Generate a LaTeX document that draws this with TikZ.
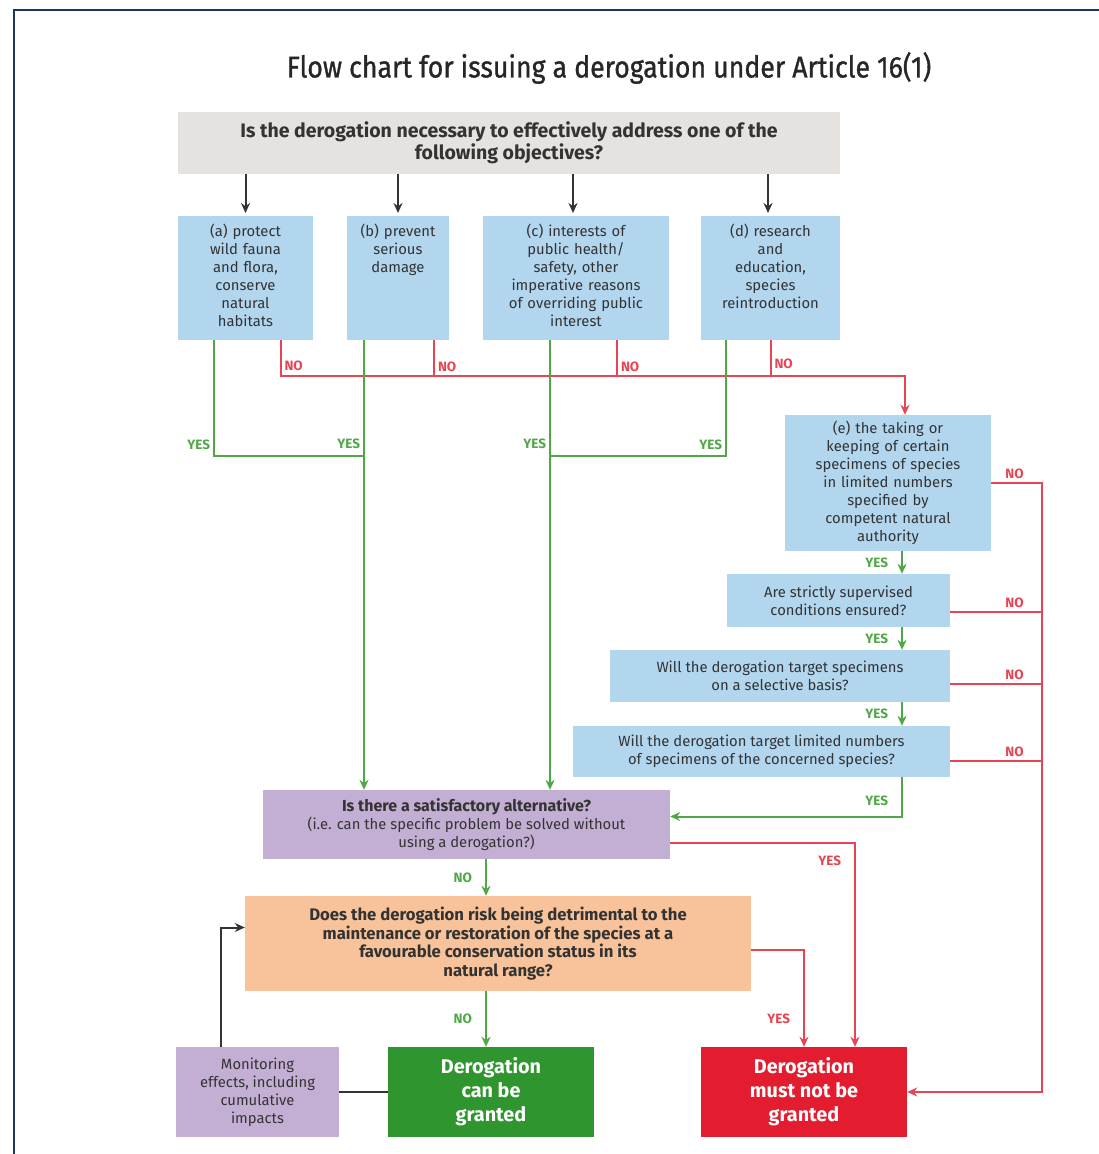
\documentclass[tikz,border=0pt]{standalone}
\usepackage{fontspec}
\setmainfont{Fira Sans}
\newfontfamily\titlefont[FakeStretch=0.89,FakeBold=1]{Fira Sans}
\usetikzlibrary{calc,arrows.meta}

\definecolor{framecol}{HTML}{1F3564}
\definecolor{greybox}{HTML}{E5E2DF}
\definecolor{bluebox}{HTML}{B3D6EF}
\definecolor{lilacbox}{HTML}{C4AFD4}
\definecolor{orangebox}{HTML}{F8C39A}
\definecolor{grantcol}{HTML}{2E952F}
\definecolor{refusecol}{HTML}{E31D2F}
\definecolor{yescol}{HTML}{4FA845}
\definecolor{nocol}{HTML}{E64653}
\definecolor{boxtext}{HTML}{333333}

\tikzset{
  box/.style={fill=bluebox, inner sep=4pt, align=center, text=boxtext,
    font=\fontsize{14.8}{18}\selectfont},
  topbox/.style={box, anchor=north, text height=16pt, text depth=100pt},
  endbox/.style={box, text=white, minimum height=90pt, minimum width=206pt,
    font=\bfseries\fontsize{19.8}{24}\selectfont},
  flow/.style={draw=black!80, line width=2pt},
  yesline/.style={draw=yescol, line width=2pt},
  noline/.style={draw=nocol, line width=2pt},
  lab/.style={font=\bfseries\fontsize{13.5}{14}\selectfont, inner sep=3pt},
  glab/.style={lab, text=yescol},
  rlab/.style={lab, text=nocol},
}

\begin{document}
\begin{tikzpicture}[x=1pt,y=-1pt,>={Stealth[length=10pt,width=9pt]}]
  \useasboundingbox (0,0) rectangle (1099,1154);
  \draw[framecol, line width=2pt] (14,1154) -- (14,10) -- (1099,10);

  \node[font=\titlefont\fontsize{30}{36}\selectfont, text=black!85] (title) at (609,68)
    {Flow chart for issuing a derogation under Article 16(1)};

  \node[box, fill=greybox, minimum width=662pt, minimum height=62pt,
    font=\bfseries\fontsize{19.5}{22}\selectfont] (obj) at (509,143)
    {Is the derogation necessary to effectively address one of the\\following objectives?};

  \node[topbox, text width=127pt] (pa) at (245.5,216) {(a) protect\\wild fauna\\and flora,\\conserve\\natural\\habitats};
  \node[topbox, text width=94pt] (pb) at (398,216) {(b) prevent\\serious\\damage};
  \node[topbox, text width=178pt] (pc) at (576,216) {(c) interests of\\public health/\\safety, other\\imperative reasons\\of overriding public\\interest};
  \node[topbox, text width=131pt] (pd) at (770.5,216) {(d) research\\and\\education,\\species\\reintroduction};

  \node[box, text width=198pt, minimum height=136pt] (pe) at (888,483)
    {(e) the taking or\\keeping of certain\\specimens of species\\in limited numbers\\specified by\\competent natural\\authority};
  \node[box, minimum width=223pt, minimum height=53pt] (qf) at (838.5,600.5)
    {Are strictly supervised\\conditions ensured?};
  \node[box, minimum width=340pt, minimum height=52pt] (qg) at (780,676)
    {Will the derogation target specimens\\on a selective basis?};
  \node[box, minimum width=377pt, minimum height=51pt] (qh) at (761.5,751.5)
    {Will the derogation target limited numbers\\of specimens of the concerned species?};

  \node[box, fill=lilacbox, minimum width=407pt, minimum height=69pt] (alt) at (466.5,824.5)
    {\textbf{\fontsize{16}{18}\selectfont Is there a satisfactory alternative?}\\(i.e. can the specific problem be solved without\\using a derogation?)};
  \node[box, fill=orangebox, minimum width=506pt, minimum height=95pt,
    font=\bfseries\fontsize{16.7}{18.5}\selectfont] (risk) at (498,943.5)
    {Does the derogation risk being detrimental to the\\maintenance or restoration of the species at a\\favourable conservation status in its\\natural range?};

  \node[box, fill=lilacbox, minimum width=163pt, minimum height=90pt] (mon) at (257.5,1092)
    {Monitoring\\effects, including\\cumulative\\impacts};
  \node[endbox, fill=grantcol] (grant) at (491,1092) {Derogation\\can be\\granted};
  \node[endbox, fill=refusecol] (refuse) at (804,1092) {Derogation\\must not be\\granted};

  \coordinate (nobus) at (905,376);
  \coordinate (ya) at (364,456);
  \coordinate (yc) at (550,456);
  \coordinate (yx) at (902,0);
  \coordinate (nx) at (1042,0);
  \coordinate (gx) at (486,0);

  \draw[flow,->] (pa.north |- obj.south) -- ([yshift=3pt]pa.north);
  \draw[flow,->] (pb.north |- obj.south) -- ([yshift=3pt]pb.north);
  \draw[flow,->] ([xshift=-3pt]pc.north |- obj.south) -- ([xshift=-3pt,yshift=3pt]pc.north);
  \draw[flow,->] ([xshift=-2.5pt]pd.north |- obj.south) -- ([xshift=-2.5pt,yshift=3pt]pd.north);

  \draw[noline,->] ([xshift=35pt]pa.south) |- node[rlab,right,pos=0.36]{NO} (nobus) -- (nobus |- pe.north);
  \draw[noline] ([xshift=36pt]pb.south) -- node[rlab,right,pos=0.72]{NO} ++(0,36);
  \draw[noline] ([xshift=41pt]pc.south) -- node[rlab,right,pos=0.72]{NO} ++(0,36);
  \draw[noline] (pd.south) -- node[rlab,right,pos=0.65]{NO} ++(0,36);

  \draw[yesline] ([xshift=-31.5pt]pa.south) |- node[glab,left,pos=0.45]{YES} (ya);
  \draw[yesline,->] (ya |- pb.south) -- node[glab,left,pos=0.23]{YES} (ya |- alt.north);
  \draw[yesline,->] (yc |- pc.south) -- node[glab,left,pos=0.23]{YES} (yc |- alt.north);
  \draw[yesline] ([xshift=-44.5pt]pd.south) |- node[glab,left,pos=0.45]{YES} (yc);

  \draw[yesline,->] (pe.south -| yx) -- node[glab,left=10pt]{YES} (qf.north -| yx);
  \draw[yesline,->] (qf.south -| yx) -- node[glab,left=10pt]{YES} (qg.north -| yx);
  \draw[yesline,->] (qg.south -| yx) -- node[glab,left=10pt]{YES} (qh.north -| yx);
  \draw[yesline,->] (qh.south -| yx) |- node[glab,left=10pt,pos=0.3]{YES} ([yshift=8pt]alt.east);

  \draw[noline,->] (pe.east) -| node[rlab,above,pos=0.23]{NO} (nx |- refuse.east) -- (refuse.east);
  \draw[noline] ([yshift=-11pt]qf.east) -- node[rlab,above,pos=0.7]{NO} ([yshift=-11pt]qf.east -| nx);
  \draw[noline] ([yshift=-8pt]qg.east) -- node[rlab,above,pos=0.7]{NO} ([yshift=-8pt]qg.east -| nx);
  \draw[noline] ([yshift=-9.5pt]qh.east) -- node[rlab,above,pos=0.7]{NO} ([yshift=-9.5pt]qh.east -| nx);

  \draw[noline,->] ([yshift=-18pt]alt.east) -| node[rlab,left=10pt,pos=0.545]{YES} ([xshift=51pt]refuse.north);
  \draw[yesline,->] (alt.south -| gx) -- node[glab,left=10pt]{NO} (risk.north -| gx);
  \draw[yesline,->] (risk.south -| gx) -- node[glab,left=10pt]{NO} (grant.north -| gx);
  \draw[noline,->] ([yshift=-6pt]risk.east) -| node[rlab,left=10pt,pos=0.855]{YES} (refuse.north);

  \draw[flow] (grant.west) -- (mon.east);
  \draw[flow,->] ([xshift=-36.5pt]mon.north) |- ([yshift=16pt]risk.west);
\end{tikzpicture}
\end{document}
